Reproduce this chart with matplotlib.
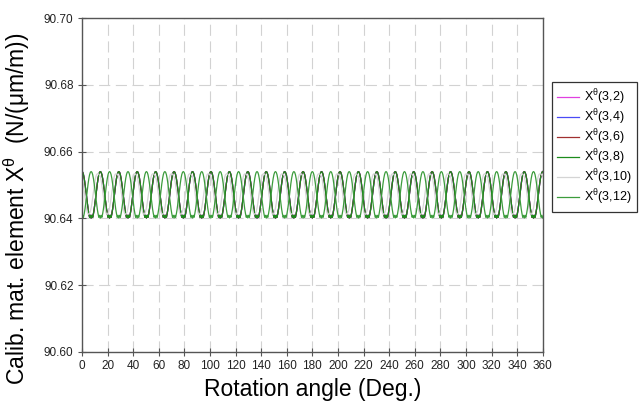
import numpy as np
import matplotlib
matplotlib.use("Agg")
from matplotlib import pyplot as plt

plt.rcParams['font.family'] = ['Liberation Sans', 'DejaVu Sans']
plt.rcParams['mathtext.fontset'] = 'custom'
plt.rcParams['mathtext.rm'] = 'Liberation Sans'
plt.rcParams['mathtext.it'] = 'Liberation Sans:italic'

# one period (14.4 deg, 0.6 deg steps) of each curve
n_periods = 25
step_deg = 0.6
prof_38 = [90.6540, 90.6538, 90.6531, 90.6519, 90.6503, 90.6484, 90.6464, 90.6445,
           90.6428, 90.6414, 90.6403, 90.6409, 90.6401, 90.6409, 90.6403, 90.6414,
           90.6428, 90.6445, 90.6464, 90.6484, 90.6503, 90.6519, 90.6531, 90.6538]
prof_312 = [90.6401, 90.6409, 90.6403, 90.6414, 90.6428, 90.6445, 90.6464, 90.6484,
            90.6503, 90.6519, 90.6531, 90.6538, 90.6540, 90.6538, 90.6531, 90.6519,
            90.6503, 90.6484, 90.6464, 90.6445, 90.6428, 90.6414, 90.6403, 90.6409]
prof_310 = [90.6525, 90.6515, 90.6500, 90.6483, 90.6464, 90.6446, 90.6430, 90.6418,
            90.6413, 90.6412, 90.6415, 90.6421, 90.6431, 90.6445, 90.6462, 90.6480,
            90.6497, 90.6512, 90.6524, 90.6531, 90.6533, 90.6534, 90.6532, 90.6529]

labels = ["(3,2)", "(3,4)", "(3,6)", "(3,8)", "(3,10)", "(3,12)"]
colors = ["#e040e0", "#4a4af5", "#a03030", "#1c8c1c", "#d4d4d4", "#3c9c3c"]
profiles = [prof_38, prof_38, prof_38, prof_38, prof_310, prof_312]

x_ticks = np.arange(0, 361, 20)
y_ticks = [90.60, 90.62, 90.64, 90.66, 90.68, 90.70]


def full_series(prof):
    y = np.tile(prof, n_periods)
    return np.append(y, prof[0])


angle = np.arange(len(prof_38) * n_periods + 1) * step_deg

fig = plt.figure(figsize=(6.4, 4.11), dpi=100)
ax = fig.add_axes([0.128, 0.144, 0.72, 0.812])

for lab, col, prof in zip(labels, colors, profiles):
    ax.plot(angle, full_series(prof), color=col, lw=0.9,
            label=r"X$^{\mathrm{θ}}$" + lab)

ax.set_xlim(0, 360)
ax.set_ylim(90.60, 90.70)
ax.set_xticks(x_ticks)
ax.set_yticks(y_ticks)
ax.yaxis.set_major_formatter(matplotlib.ticker.FormatStrFormatter('%.2f'))
ax.tick_params(direction='inout', length=6, width=0.8, colors='#555555',
               labelcolor='#222222', labelsize=8.5, pad=3)
ax.grid(True, color='#d2d2d2', lw=0.8, linestyle=(0, (10, 5)))
ax.set_axisbelow(True)
for sp in ax.spines.values():
    sp.set_color('#555555')
    sp.set_linewidth(1.0)

ax.set_xlabel("Rotation angle (Deg.)", fontsize=16.5, labelpad=4)
ax.set_ylabel(r"Calib. mat. element X$^{\mathrm{θ}}$  (N/(μm/m))", fontsize=16.5)
ax.yaxis.set_label_coords(-0.108, 0.43)

leg = fig.legend(loc='upper left', bbox_to_anchor=(0.862, 0.80), fontsize=9,
                 frameon=True, fancybox=False, handlelength=1.7, labelspacing=0.02,
                 borderpad=0.45, handletextpad=0.4, borderaxespad=0.0)
leg.get_frame().set_edgecolor('black')
leg.get_frame().set_linewidth(0.9)

fig.savefig("out.png", dpi=100)
